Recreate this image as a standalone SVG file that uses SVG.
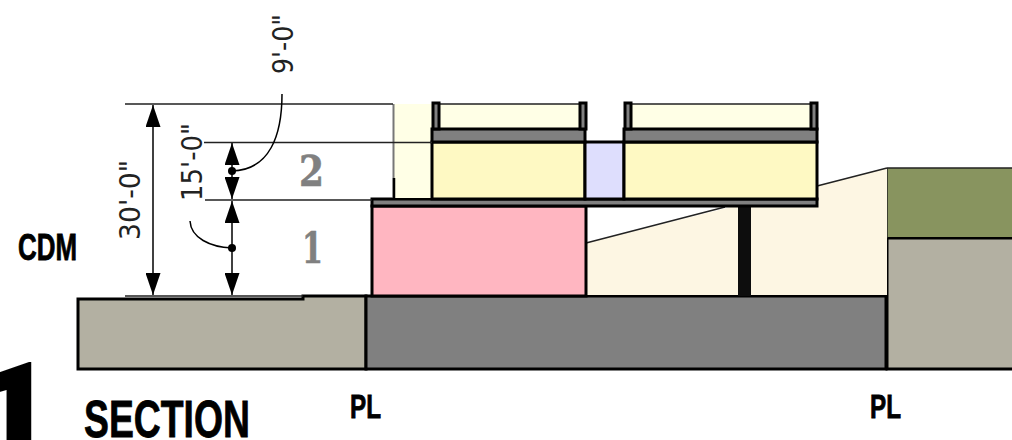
<svg xmlns="http://www.w3.org/2000/svg" width="1012" height="440" viewBox="0 0 1012 440">
<style>
.o{stroke:#000;stroke-width:3}
.thin{stroke:#222;stroke-width:1.5;fill:none}
.lead{stroke:#000;stroke-width:1.5;fill:none}
.dim{font-family:"DejaVu Sans",sans-serif;font-size:28px;fill:#222}
.lab{font-family:"Liberation Sans",sans-serif;font-weight:700;fill:#000;stroke:#000;stroke-width:.8}
.num{font-family:"DejaVu Serif",serif;font-weight:700;font-size:42px;fill:#808080;stroke:#808080;stroke-width:.6}
</style>
<defs>
<marker id="a" viewBox="0 0 22 15" refX="22" refY="7.500" markerWidth="22" markerHeight="15" markerUnits="userSpaceOnUse" orient="auto-start-reverse"><path d="M0 0L22 7.500L0 15Z" fill="#000"/></marker>
</defs>
<rect width="1012" height="440" fill="#fff"/>
<g id="site-left"><path class="o" fill="#b3b0a2" d="M78 299H303V296H366V369H78Z"/></g>
<g id="podium"><rect class="o" fill="#808080" x="366" y="296" width="520" height="73"/></g>
<g id="site-right">
<path fill="#b3b0a2" class="o" d="M1014 238H887V369H1014"/>
<path fill="#88945f" d="M887 168H1012V237H887Z"/>
<path class="thin" d="M887 168H1012M887 168V238"/>
</g>
<g id="cream">
<path fill="#fdf6e3" d="M586 243L887 168V295H586Z"/>
<path class="thin" d="M586 243L725 207M817 186L887 168"/>
</g>
<g id="column"><rect x="738" y="206" width="13" height="90" fill="#0d0d0d"/></g>
<g id="level-1"><rect class="o" fill="#ffb6c1" x="372" y="206" width="214" height="90"/></g>
<g id="slab"><rect class="o" fill="#808080" x="372" y="199" width="445" height="7"/></g>
<g id="setback"><rect fill="#ffffe6" x="394" y="104" width="38" height="94"/><path stroke="#777" stroke-width="2" fill="none" d="M393.500 104V198"/><path stroke="#000" stroke-width="2.500" fill="none" d="M394 178V198"/></g>
<g id="level-2">
<rect class="o" fill="#fef9c3" x="432" y="142" width="153" height="57"/>
<rect class="o" fill="#dedefd" x="585" y="142" width="39" height="57"/>
<rect class="o" fill="#fef9c3" x="624" y="142" width="193" height="57"/>
</g>
<g id="roof">
<rect fill="#ffffe6" x="439" y="104" width="140" height="25"/>
<rect fill="#ffffe6" x="632" y="104" width="179" height="25"/>
<path class="thin" d="M432 104H586M624 104H817"/>
<rect class="o" fill="#808080" x="432" y="129" width="153" height="13"/>
<rect class="o" fill="#808080" x="624" y="129" width="193" height="13"/>
<rect class="o" stroke-width="2" fill="#808080" x="433" y="103" width="6" height="26"/>
<rect class="o" stroke-width="2" fill="#808080" x="580" y="103" width="6" height="26"/>
<rect class="o" stroke-width="2" fill="#808080" x="625" y="103" width="6" height="26"/>
<rect class="o" stroke-width="2" fill="#808080" x="811" y="103" width="6" height="26"/>
</g>
<g id="connectors">
<path class="thin" d="M125 104H393M204 142.500H432M205 200H372M125 296H303"/>
<path class="lead" marker-start="url(#a)" marker-end="url(#a)" d="M153 105V295"/>
<path class="lead" marker-start="url(#a)" marker-end="url(#a)" d="M232 143V199"/>
<path class="lead" marker-start="url(#a)" marker-end="url(#a)" d="M232 201V295"/>
<path class="lead" d="M282 94C282 135 270 170 232 171"/>
<path class="lead" d="M190 221C191 238 210 247 232 248"/>
<circle cx="232" cy="171" r="4"/>
<circle cx="232" cy="248" r="4"/>
</g>
<g id="labels">
<text class="dim" transform="translate(293 74) rotate(-90)" textLength="60" lengthAdjust="spacingAndGlyphs">9'-0"</text>
<text class="dim" transform="translate(202 201) rotate(-90)" textLength="78" lengthAdjust="spacingAndGlyphs">15'-0"</text>
<text class="dim" transform="translate(140 240) rotate(-90)" textLength="80" lengthAdjust="spacingAndGlyphs">30'-0"</text>
<text class="num" x="299" y="186" textLength="25" lengthAdjust="spacingAndGlyphs">2</text>
<text class="num" x="302" y="263" textLength="21" lengthAdjust="spacingAndGlyphs">1</text>
<text class="lab" x="18" y="260" font-size="36" textLength="59" lengthAdjust="spacingAndGlyphs">CDM</text>
<text class="lab" x="84" y="437" font-size="52" textLength="166" lengthAdjust="spacingAndGlyphs">SECTION</text>
<text class="lab" x="350" y="418" font-size="33" textLength="31" lengthAdjust="spacingAndGlyphs">PL</text>
<text class="lab" x="870" y="418" font-size="33" textLength="31" lengthAdjust="spacingAndGlyphs">PL</text>
<text x="-30" y="469" font-size="150" font-weight="900" style="font-family:Roboto,sans-serif">1</text>
</g>
</svg>
